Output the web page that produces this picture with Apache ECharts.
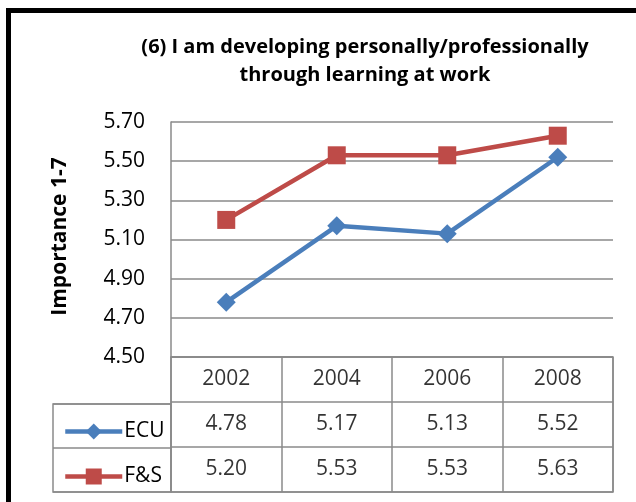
<!DOCTYPE html>
<html>
<head>
<meta charset="utf-8">
<script src="https://cdn.jsdelivr.net/npm/echarts@6/dist/echarts.min.js"></script>
<style>
  html, body { margin: 0; padding: 0; background: #fff; }
  #chart { width: 636px; height: 502px; }
</style>
</head>
<body>
<div id="chart"></div>
<script>
// data
const years = ['2002', '2004', '2006', '2008']
const ecu = [4.78, 5.17, 5.13, 5.52]
const fs = [5.20, 5.53, 5.53, 5.63]
const seriesNames = ['ECU', 'F&S']
const yMin = 4.5
const yMax = 5.7
const yStep = 0.2

const blue = '#4A7EBB'
const red = '#BE4B48'
const gridGray = '#8a8a8a'
const font = '"Open Sans", "Noto Sans", sans-serif'

const chart = echarts.init(document.getElementById('chart'))

// table text, built from the arrays above
const rows = ['year', seriesNames[0], seriesNames[1]]
const tableCells = []
years.forEach((y, i) => {
  tableCells.push({ value: [y, 'year'], text: y })
  tableCells.push({ value: [y, seriesNames[0]], text: ecu[i].toFixed(2) })
  tableCells.push({ value: [y, seriesNames[1]], text: fs[i].toFixed(2) })
})

const option = {
  animation: false,
  title: {
    text: '(6) I am developing personally/professionally\nthrough learning at work',
    left: 360,
    top: 28,
    textAlign: 'center',
    textStyle: { fontFamily: font, fontWeight: 'bold', fontSize: 20, lineHeight: 28, color: '#000' }
  },
  legend: {
    data: seriesNames,
    orient: 'vertical',
    left: 58,
    top: 416,
    itemWidth: 57,
    itemHeight: 20,
    itemGap: 24,
    lineStyle: { width: 4.5 },
    textStyle: { fontFamily: font, fontSize: 21, color: '#000', lineHeight: 20, padding: [0, 0, 0, -3] },
    selectedMode: false
  },
  graphic: [
    {
      type: 'rect',
      shape: { x: 8.5, y: 10.5, width: 700, height: 600 },
      style: { fill: null, stroke: '#000', lineWidth: 5 },
      silent: true
    }
  ],
  grid: [
    { left: 171, right: 23, top: 122, height: 235, show: false },
    { left: 171, right: 23, top: 357, height: 135, show: true, borderColor: gridGray, borderWidth: 1.5 },
    { left: 53, width: 118, top: 404, height: 88, show: true, borderColor: gridGray, borderWidth: 1.5 }
  ],
  xAxis: [
    {
      gridIndex: 0, type: 'category', data: years, boundaryGap: true,
      axisLine: { show: false }, axisTick: { show: false }, axisLabel: { show: false }
    },
    {
      gridIndex: 1, type: 'category', data: years, boundaryGap: true,
      axisLine: { show: false }, axisTick: { show: false }, axisLabel: { show: false },
      splitLine: { show: true, lineStyle: { color: gridGray, width: 1.5 } }
    },
    {
      gridIndex: 2, type: 'value', show: false
    }
  ],
  yAxis: [
    {
      gridIndex: 0, type: 'value', min: yMin, max: yMax, interval: yStep,
      name: 'Importance 1-7',
      nameLocation: 'middle',
      nameGap: 100,
      nameTextStyle: { fontFamily: font, fontWeight: 'bold', fontSize: 21, color: '#000', padding: [0, 0, 0, 6] },
      axisLine: { show: true, lineStyle: { color: gridGray, width: 1.5 } },
      axisTick: { show: false },
      axisLabel: { fontFamily: font, fontSize: 21, color: '#000', margin: 26, formatter: v => v.toFixed(2) },
      splitLine: { show: true, lineStyle: { color: gridGray, width: 1.5 } }
    },
    {
      gridIndex: 1, type: 'category', data: rows, inverse: true,
      axisLine: { show: false }, axisTick: { show: false }, axisLabel: { show: false },
      splitLine: { show: true, lineStyle: { color: gridGray, width: 1.5 } }
    },
    {
      gridIndex: 2, type: 'category', data: seriesNames, inverse: true,
      axisLine: { show: false }, axisTick: { show: false }, axisLabel: { show: false },
      splitLine: { show: true, lineStyle: { color: gridGray, width: 1.5 } }
    }
  ],
  series: [
    {
      name: seriesNames[0], type: 'line', xAxisIndex: 0, yAxisIndex: 0,
      data: ecu,
      symbol: 'diamond', symbolSize: 19,
      lineStyle: { color: blue, width: 4.5 },
      itemStyle: { color: blue }
    },
    {
      name: seriesNames[1], type: 'line', xAxisIndex: 0, yAxisIndex: 0,
      data: fs,
      symbol: 'rect', symbolSize: 18,
      lineStyle: { color: red, width: 4.5 },
      itemStyle: { color: red }
    },
    {
      type: 'scatter', xAxisIndex: 1, yAxisIndex: 1,
      symbolSize: 0, silent: true,
      data: tableCells,
      label: {
        show: true, position: 'inside',
        formatter: p => p.data.text,
        fontFamily: font, fontSize: 21, color: '#000'
      }
    }
  ]
}

chart.setOption(option)
</script>
</body>
</html>
